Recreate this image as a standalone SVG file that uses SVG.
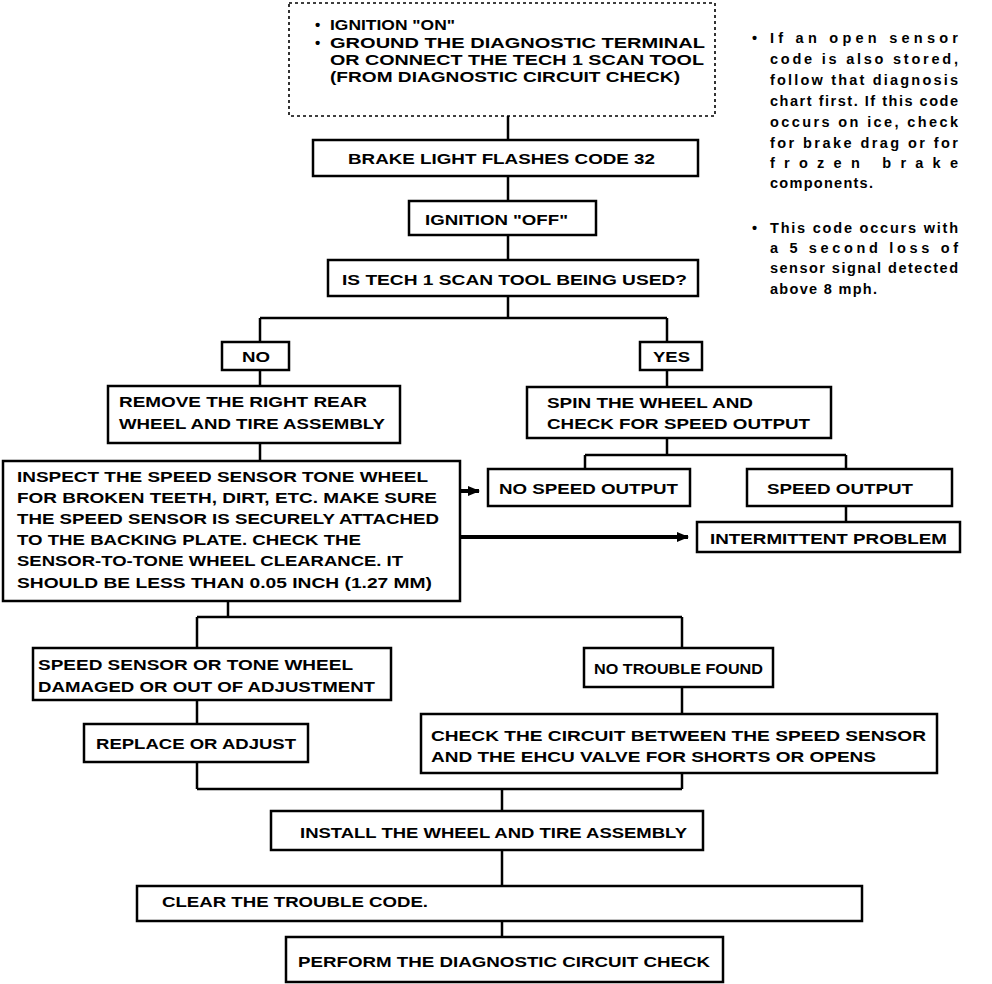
<svg xmlns="http://www.w3.org/2000/svg" width="992" height="984" viewBox="0 0 992 984">
<defs>
<style>
.b{fill:#fff;stroke:#000;stroke-width:2.5}
.d{fill:#fff;stroke:#000;stroke-width:1.6;stroke-dasharray:3 3}
.t{font-family:"Liberation Sans",Arial,Helvetica,sans-serif;font-weight:bold;font-size:15px;fill:#000}
.n{font-family:"Liberation Sans",Arial,Helvetica,sans-serif;font-weight:bold;font-size:14.5px;fill:#000}
.c{fill:none;stroke:#000;stroke-width:2.5}
.a{fill:none;stroke:#000;stroke-width:4}
</style>
<marker id="ah" markerWidth="12" markerHeight="10" refX="11" refY="5" orient="auto" markerUnits="userSpaceOnUse">
<path d="M0,0 L12,5 L0,10 Z" fill="#000"/>
</marker>
</defs>
<rect width="992" height="984" fill="#fff"/>

<g id="connectors">
<path class="c" d="M508,116V140M508,176V201M508,235V260M508,296V318M260,318H667M260,318V342M667,318V342M260,370V386M667,370V387M260,443V461M667,438V455M585,455H846M585,455V469M846,455V469M846,506V522M228,601V617M197,617H682M197,617V648M682,617V648M197,700V724M682,687V714M197,762V789M682,773V789M197,789H682M502,789V811M502,850V886M502,921V937"/>
<path class="a" d="M460,491H479" marker-end="url(#ah)"/>
<path class="a" d="M460,537H688" marker-end="url(#ah)"/>
</g>

<g id="start">
<rect class="d" x="289" y="3" width="426" height="113"/>
<text class="t" x="315" y="30">•</text>
<text class="t" x="330" y="30" textLength="125" lengthAdjust="spacingAndGlyphs">IGNITION "ON"</text>
<text class="t" x="315" y="48">•</text>
<text class="t" x="330" y="48" textLength="375" lengthAdjust="spacingAndGlyphs">GROUND THE DIAGNOSTIC TERMINAL</text>
<text class="t" x="330" y="65" textLength="374" lengthAdjust="spacingAndGlyphs">OR CONNECT THE TECH 1 SCAN TOOL</text>
<text class="t" x="330" y="82" textLength="350" lengthAdjust="spacingAndGlyphs">(FROM DIAGNOSTIC CIRCUIT CHECK)</text>
</g>

<g id="note">
<text class="n" x="752" y="43">•</text>
<text class="n" x="770" y="43" textLength="188" lengthAdjust="spacing">If an open sensor</text>
<text class="n" x="770" y="64" textLength="188" lengthAdjust="spacing">code is also stored,</text>
<text class="n" x="770" y="85" textLength="188" lengthAdjust="spacing">follow that diagnosis</text>
<text class="n" x="770" y="106" textLength="188" lengthAdjust="spacing">chart first. If this code</text>
<text class="n" x="770" y="127" textLength="188" lengthAdjust="spacing">occurs on ice, check</text>
<text class="n" x="770" y="148" textLength="188" lengthAdjust="spacing">for brake drag or for</text>
<text class="n" x="770" y="168" textLength="188" lengthAdjust="spacing">frozen brake</text>
<text class="n" x="770" y="188" textLength="103" lengthAdjust="spacing">components.</text>
<text class="n" x="752" y="233">•</text>
<text class="n" x="770" y="233" textLength="188" lengthAdjust="spacing">This code occurs with</text>
<text class="n" x="770" y="253" textLength="188" lengthAdjust="spacing">a 5 second loss of</text>
<text class="n" x="770" y="273" textLength="188" lengthAdjust="spacing">sensor signal detected</text>
<text class="n" x="770" y="294" textLength="107" lengthAdjust="spacing">above 8 mph.</text>
</g>

<g id="brake">
<rect class="b" x="313" y="140" width="385" height="36"/>
<text class="t" x="348" y="164" textLength="307" lengthAdjust="spacingAndGlyphs">BRAKE LIGHT FLASHES CODE 32</text>
</g>

<g id="ignoff">
<rect class="b" x="409" y="201" width="187" height="34"/>
<text class="t" x="425" y="225" textLength="143" lengthAdjust="spacingAndGlyphs">IGNITION "OFF"</text>
</g>

<g id="tech1">
<rect class="b" x="328" y="260" width="370" height="36"/>
<text class="t" x="342" y="285" textLength="345" lengthAdjust="spacingAndGlyphs">IS TECH 1 SCAN TOOL BEING USED?</text>
</g>

<g id="no">
<rect class="b" x="222" y="342" width="67" height="28"/>
<text class="t" x="242" y="362" textLength="28" lengthAdjust="spacingAndGlyphs">NO</text>
</g>

<g id="yes">
<rect class="b" x="640" y="342" width="62" height="28"/>
<text class="t" x="653" y="362" textLength="37" lengthAdjust="spacingAndGlyphs">YES</text>
</g>

<g id="remove">
<rect class="b" x="108" y="386" width="292" height="57"/>
<text class="t" x="119" y="407" textLength="248" lengthAdjust="spacingAndGlyphs">REMOVE THE RIGHT REAR</text>
<text class="t" x="119" y="429" textLength="266" lengthAdjust="spacingAndGlyphs">WHEEL AND TIRE ASSEMBLY</text>
</g>

<g id="spin">
<rect class="b" x="527" y="387" width="304" height="51"/>
<text class="t" x="547" y="408" textLength="206" lengthAdjust="spacingAndGlyphs">SPIN THE WHEEL AND</text>
<text class="t" x="547" y="429" textLength="263" lengthAdjust="spacingAndGlyphs">CHECK FOR SPEED OUTPUT</text>
</g>

<g id="inspect">
<rect class="b" x="3" y="461" width="457" height="140"/>
<text class="t" x="17" y="482" textLength="411" lengthAdjust="spacingAndGlyphs">INSPECT THE SPEED SENSOR TONE WHEEL</text>
<text class="t" x="17" y="503" textLength="420" lengthAdjust="spacingAndGlyphs">FOR BROKEN TEETH, DIRT, ETC. MAKE SURE</text>
<text class="t" x="17" y="524" textLength="422" lengthAdjust="spacingAndGlyphs">THE SPEED SENSOR IS SECURELY ATTACHED</text>
<text class="t" x="17" y="545" textLength="344" lengthAdjust="spacingAndGlyphs">TO THE BACKING PLATE. CHECK THE</text>
<text class="t" x="17" y="566" textLength="386" lengthAdjust="spacingAndGlyphs">SENSOR-TO-TONE WHEEL CLEARANCE. IT</text>
<text class="t" x="17" y="588" textLength="415" lengthAdjust="spacingAndGlyphs">SHOULD BE LESS THAN 0.05 INCH (1.27 MM)</text>
</g>

<g id="nospeed">
<rect class="b" x="488" y="469" width="202" height="37"/>
<text class="t" x="499" y="494" textLength="179" lengthAdjust="spacingAndGlyphs">NO SPEED OUTPUT</text>
</g>

<g id="speed">
<rect class="b" x="747" y="469" width="205" height="37"/>
<text class="t" x="767" y="494" textLength="146" lengthAdjust="spacingAndGlyphs">SPEED OUTPUT</text>
</g>

<g id="intermittent">
<rect class="b" x="697" y="522" width="263" height="30"/>
<text class="t" x="710" y="544" textLength="237" lengthAdjust="spacingAndGlyphs">INTERMITTENT PROBLEM</text>
</g>

<g id="damaged">
<rect class="b" x="33" y="648" width="358" height="52"/>
<text class="t" x="38" y="670" textLength="315" lengthAdjust="spacingAndGlyphs">SPEED SENSOR OR TONE WHEEL</text>
<text class="t" x="38" y="692" textLength="337" lengthAdjust="spacingAndGlyphs">DAMAGED OR OUT OF ADJUSTMENT</text>
</g>

<g id="notrouble">
<rect class="b" x="584" y="648" width="189" height="39"/>
<text class="t" x="594" y="674" textLength="169" lengthAdjust="spacingAndGlyphs">NO TROUBLE FOUND</text>
</g>

<g id="replace">
<rect class="b" x="84" y="724" width="224" height="38"/>
<text class="t" x="96" y="749" textLength="200" lengthAdjust="spacingAndGlyphs">REPLACE OR ADJUST</text>
</g>

<g id="check">
<rect class="b" x="421" y="714" width="516" height="59"/>
<text class="t" x="431" y="741" textLength="495" lengthAdjust="spacingAndGlyphs">CHECK THE CIRCUIT BETWEEN THE SPEED SENSOR</text>
<text class="t" x="431" y="762" textLength="445" lengthAdjust="spacingAndGlyphs">AND THE EHCU VALVE FOR SHORTS OR OPENS</text>
</g>

<g id="install">
<rect class="b" x="271" y="811" width="432" height="39"/>
<text class="t" x="300" y="838" textLength="387" lengthAdjust="spacingAndGlyphs">INSTALL THE WHEEL AND TIRE ASSEMBLY</text>
</g>

<g id="clear">
<rect class="b" x="137" y="886" width="725" height="35"/>
<text class="t" x="162" y="907" textLength="266" lengthAdjust="spacingAndGlyphs">CLEAR THE TROUBLE CODE.</text>
</g>

<g id="perform">
<rect class="b" x="286" y="937" width="437" height="45"/>
<text class="t" x="298" y="967" textLength="412" lengthAdjust="spacingAndGlyphs">PERFORM THE DIAGNOSTIC CIRCUIT CHECK</text>
</g>
</svg>
